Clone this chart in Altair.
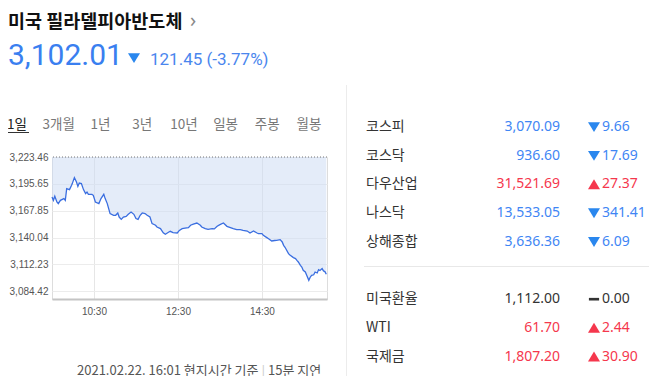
import altair as alt
import pandas as pd

# ---------------- data ----------------
times = ["09:30","09:32","09:34","09:37","09:39","09:42","09:47","09:49","09:51","09:55",
         "09:58","09:59","10:02","10:05","10:07","10:09","10:12","10:15","10:18","10:20",
         "10:22","10:27","10:29","10:32","10:37","10:40","10:44","10:46","10:49","10:51",
         "10:53","10:58","11:01","11:04","11:06","11:09","11:12","11:16","11:19","11:23",
         "11:27","11:30","11:33","11:36","11:39","11:43","11:46","11:50","11:53","11:58",
         "12:00","12:05","12:09","12:12","12:17","12:19","12:23","12:29","12:32","12:36",
         "12:40","12:45","12:48","12:52","12:57","13:02","13:04","13:09","13:13","13:19",
         "13:22","13:26","13:30","13:35","13:40","13:45","13:49","13:54","13:59","14:03",
         "14:09","14:13","14:18","14:23","14:25","14:30","14:32","14:37","14:39","14:44",
         "14:48","14:51","14:56","14:59","15:01","15:03","15:08","15:10","15:15","15:18",
         "15:20","15:22","15:25","15:27","15:29","15:32","15:34","15:37","15:39","15:41",
         "15:44","15:46","15:49","15:51","15:53","15:56","15:58","16:00","16:02"]
values = [3182.0,3178.6,3182.8,3176.9,3175.2,3178.6,3180.4,3178.6,3190.7,3189.7,
          3194.2,3195.9,3202.1,3197.6,3193.1,3196.5,3195.9,3189.7,3185.6,3187.2,
          3184.8,3184.8,3183.8,3176.9,3175.2,3180.4,3184.8,3180.4,3175.2,3170.0,
          3164.9,3163.1,3163.1,3165.5,3161.3,3158.9,3161.3,3162.0,3164.1,3166.5,
          3164.1,3159.7,3158.9,3163.1,3165.5,3164.9,3163.1,3161.3,3154.5,3152.8,
          3151.0,3149.3,3145.0,3143.4,3145.8,3146.5,3145.2,3144.8,3147.5,3149.3,
          3149.8,3150.4,3152.8,3154.0,3155.1,3152.8,3151.0,3149.3,3148.6,3149.3,
          3149.0,3151.7,3153.5,3155.1,3151.7,3150.4,3149.3,3148.3,3148.3,3147.6,
          3146.8,3144.8,3146.8,3144.8,3144.2,3144.2,3142.4,3140.0,3139.0,3136.5,
          3137.0,3137.2,3137.9,3135.5,3132.0,3130.0,3123.4,3122.0,3119.3,3118.3,
          3116.5,3114.8,3111.3,3109.6,3106.2,3104.4,3101.0,3095.8,3099.0,3101.0,
          3101.5,3104.4,3103.4,3106.9,3106.0,3107.9,3105.5,3104.8,3102.01]
prev_close = 3223.46
y_ticks = [3084.42, 3112.23, 3140.04, 3167.85, 3195.65, 3223.46]
x_ticks = ["10:30", "12:30", "14:30"]
x_range = ["09:30", "16:03"]

title_text = "미국 필라델피아반도체"
last_value = "3,102.01"
change_text = "121.45 (-3.77%)"
tabs = ["1일", "3개월", "1년", "3년", "10년", "일봉", "주봉", "월봉"]
names = ["코스피", "코스닥", "다우산업", "나스닥", "상해종합", "미국환율", "WTI", "국제금"]
quotes = ["3,070.09", "936.60", "31,521.69", "13,533.05", "3,636.36", "1,112.00", "61.70", "1,807.20"]
changes = ["9.66", "17.69", "27.37", "341.41", "6.09", "0.00", "2.44", "30.90"]
directions = ["down", "down", "up", "down", "down", "flat", "up", "up"]
footer_left = "2021.02.22. 16:01 현지시간 기준"
footer_right = "15분 지연"

# ---------------- helpers ----------------
def dt(hm):
    h, m = map(int, hm.split(":"))
    return alt.DateTime(year=2021, month=2, date=22, hours=h, minutes=m)

KR = "Noto Sans CJK KR"
NUM = "Noto Sans"
BLUE = "#3f86f4"
BLUE_TRI = "#2a87ee"
RED = "#f5374d"
DARK = "#333333"

W, H = 275, 142
OX, OY = 52, 157          # page position of the plot origin
def rx(px): return px - OX
def ry(py): return py - OY

DOWN = "M-1,-0.8L1,-0.8L0,0.85Z"
UP = "M-1,0.8L1,0.8L0,-0.85Z"
FLAT = "M-0.85,-0.22L0.85,-0.22L0.85,0.22L-0.85,0.22Z"

# ---------------- line chart ----------------
df = pd.DataFrame({"t": ["2021-02-22T" + t + ":00" for t in times], "v": values})
xs = alt.Scale(domain=[dt(x_range[0]), dt(x_range[1])])
ys = alt.Scale(domain=[3076.45, prev_close], nice=False, zero=False)

x_axis = alt.Axis(
    values=[dt(v) for v in x_ticks], format="%H:%M", title=None, ticks=False,
    labelPadding=7, labelFont="Liberation Sans", labelFontSize=10, labelColor="#555",
    labelOverlap=False, gridColor="#e6e6e6", domainColor="#c4c4c4", domainWidth=2)
y_axis = alt.Axis(
    values=y_ticks, format=",.2f", title=None, ticks=False, domain=False,
    labelPadding=4, labelFont="Liberation Sans", labelFontSize=10, labelColor="#555",
    labelOverlap=False, labelBound=False, labelFlush=False, gridColor="#ececec")

area = alt.Chart(df).mark_area(color="#c9d9f3", opacity=0.5).encode(
    x=alt.X("t:T", scale=xs, axis=x_axis),
    y=alt.Y("v:Q", scale=ys, axis=y_axis),
    y2=alt.datum(prev_close),
)
line = alt.Chart(df).mark_line(color="#3a6ee0", strokeWidth=1.3).encode(
    x=alt.X("t:T", scale=xs, axis=x_axis), y=alt.Y("v:Q", scale=ys, axis=y_axis))
top_rule = alt.Chart(pd.DataFrame({"v": [prev_close]})).mark_rule(
    color="#777", strokeDash=[1, 2], strokeWidth=1).encode(y=alt.Y("v:Q", scale=ys, axis=y_axis))
main = alt.layer(area, line, top_rule)

# ---------------- header ----------------
def label(txt, px, py, size, color, font=KR, weight="normal", align="left", baseline="middle"):
    return alt.Chart(pd.DataFrame({"s": [txt]})).mark_text(
        font=font, fontSize=size, color=color, fontWeight=weight, align=align,
        baseline=baseline).encode(x=alt.value(rx(px)), y=alt.value(ry(py)), text="s:N")

hdr_title = label(title_text, 8, 21.5, 18.5, "#111", weight="bold")
hdr_arrow = label("›", 190, 21, 20, "#888", font=NUM)
hdr_value = label(last_value, 8, 65, 30, "#3a7ff0", font="Roboto", baseline="alphabetic")
hdr_tri = alt.Chart(pd.DataFrame({"s": [1]})).mark_point(filled=True, opacity=1).encode(
    x=alt.value(rx(134)), y=alt.value(ry(58)), shape=alt.value(DOWN),
    size=alt.value(144), color=alt.value(BLUE_TRI))
hdr_change = label(change_text, 150, 65, 17, "#4a86ee", font="Roboto", baseline="alphabetic")

# ---------------- tabs ----------------
tab_df = pd.DataFrame({"tab": tabs})
tab_chart = alt.Chart(tab_df).mark_text(font=KR, fontSize=13.5, baseline="middle").encode(
    x=alt.X("tab:N", sort=None, axis=None,
            scale=alt.Scale(type="point", domain=tabs, range=[rx(17), rx(309)], padding=0)),
    y=alt.value(ry(125)),
    text="tab:N",
    color=alt.condition(alt.datum.tab == tabs[0], alt.value("#222"), alt.value("#777")),
)
tab_underline = alt.Chart(pd.DataFrame({"s": [1]})).mark_rule(color="#333", strokeWidth=1).encode(
    x=alt.value(rx(7)), x2=alt.value(rx(29)), y=alt.value(ry(132.5)))

# ---------------- right table ----------------
tbl = pd.DataFrame({"name": names, "quote": quotes, "change": changes, "dir": directions})
row_domain = names[:5] + ["__gap__"] + names[5:]
yrow = alt.Y("name:N", sort=None, axis=None,
             scale=alt.Scale(type="point", domain=row_domain, range=[ry(127), ry(356.6)], padding=0))
dir_color = alt.Color("dir:N", legend=None,
                      scale=alt.Scale(domain=["down", "up", "flat"], range=[BLUE, RED, DARK]))
t_names = alt.Chart(tbl).mark_text(font=KR, fontSize=14, align="left", baseline="middle",
                                   color=DARK).encode(
    x=alt.value(rx(366)), y=yrow, text="name:N")
t_quotes = alt.Chart(tbl).mark_text(font=NUM, fontSize=14, align="right", baseline="middle").encode(
    x=alt.value(rx(560)), y=yrow, text="quote:N", color=dir_color)
t_tri = alt.Chart(tbl).mark_point(filled=True, opacity=1, size=144).encode(
    x=alt.value(rx(594)), y=yrow,
    shape=alt.Shape("dir:N", legend=None,
                    scale=alt.Scale(domain=["down", "up", "flat"], range=[DOWN, UP, FLAT])),
    fill=alt.Fill("dir:N", legend=None,
                  scale=alt.Scale(domain=["down", "up", "flat"], range=[BLUE_TRI, RED, DARK])))
t_changes = alt.Chart(tbl).mark_text(font=NUM, fontSize=14, align="left", baseline="middle").encode(
    x=alt.value(rx(602)), y=yrow, text="change:N", color=dir_color)
table = alt.layer(t_names, t_quotes, t_tri, t_changes)

# separators
vsep = alt.Chart(pd.DataFrame({"s": [1]})).mark_rule(color="#ececec", strokeWidth=1).encode(
    x=alt.value(rx(346.5)), y=alt.value(ry(85)), y2=alt.value(ry(380)))
hsep = alt.Chart(pd.DataFrame({"s": [1]})).mark_rule(color="#e8e8e8", strokeWidth=1).encode(
    x=alt.value(rx(364)), x2=alt.value(rx(660)), y=alt.value(ry(266.5)))

# ---------------- footer ----------------
ft1 = label(footer_left, 77, 375, 13, "#555", baseline="alphabetic")
ft2 = label("|", 260, 375, 12, "#cccccc", font=NUM, baseline="alphabetic")
ft3 = label(footer_right, 268, 375, 13, "#555", baseline="alphabetic")

chart = alt.layer(
    main, hdr_title, hdr_arrow, hdr_value, hdr_tri, hdr_change,
    tab_chart, tab_underline, table, vsep, hsep, ft1, ft2, ft3,
).resolve_scale(
    x="independent", y="independent", color="independent"
).properties(
    width=W, height=H,
    autosize=alt.AutoSizeParams(type="none"),
    padding={"left": 44, "top": 149, "right": 322, "bottom": 77},
).configure_view(stroke=None).configure_axis(labelOverlap=False).configure(background="white")

chart.save("out.html", embed_options={"renderer": "svg", "actions": False})
